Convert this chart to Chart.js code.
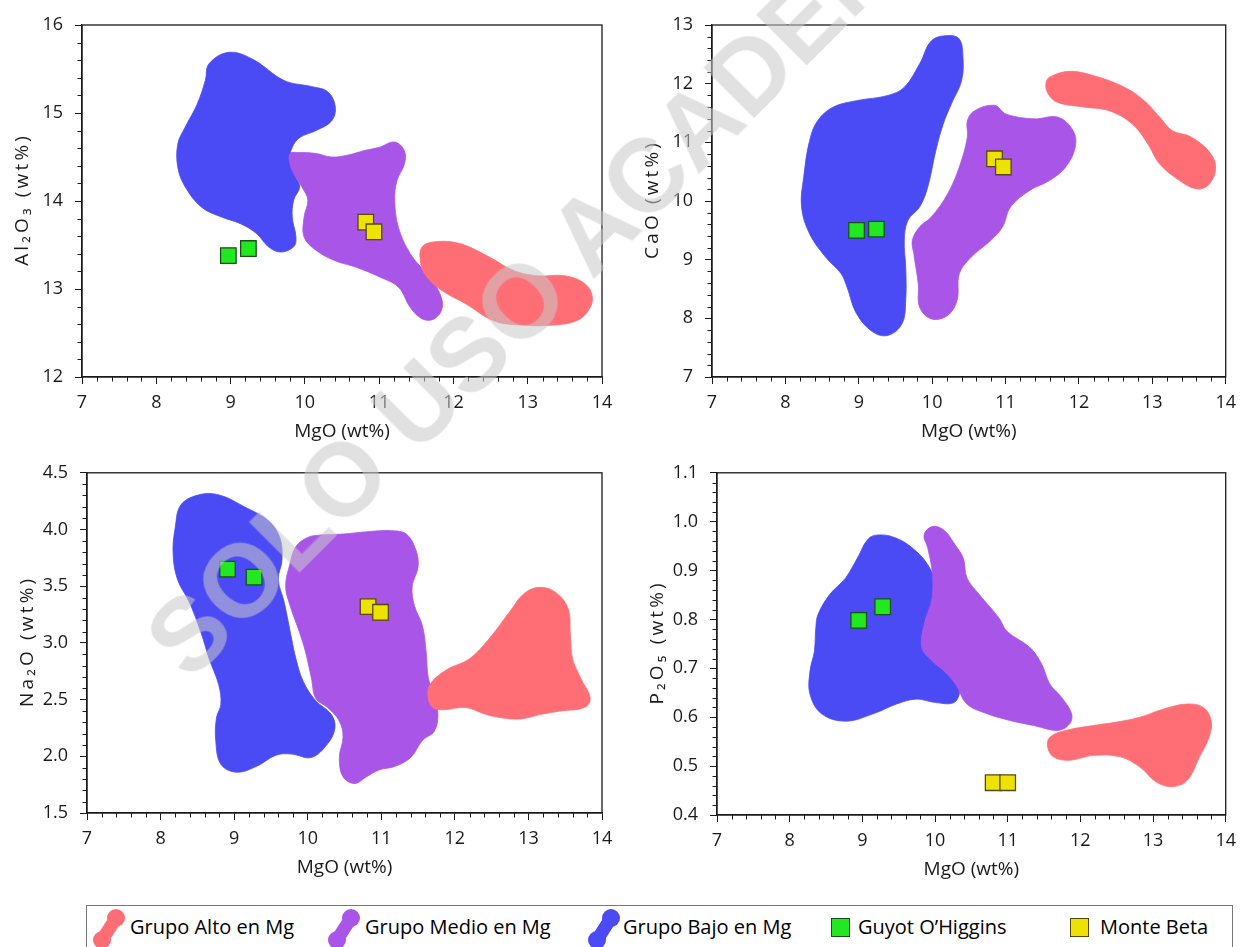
<!DOCTYPE html>
<html lang="es">
<head>
<meta charset="utf-8">
<title>MgO vs óxidos mayores</title>
<script src="https://cdn.jsdelivr.net/npm/chart.js@4.4.0/dist/chart.umd.min.js"></script>
<style>
  html, body { margin: 0; padding: 0; background: #fff; overflow: hidden; }
  #page { position: relative; width: 1244px; height: 947px; overflow: hidden; }
  #page canvas { position: absolute; }
  #legend { position: absolute; left: 86px; top: 905px; width: 1147px; height: 60px; border: 1.5px solid #777; box-sizing: border-box; }
  #legend .icon { position: absolute; top: 0.5px; }
  #legend .box { position: absolute; top: 11.5px; width: 19px; height: 19px; box-sizing: border-box; }
  #legend .lab { position: absolute; top: 8.5px; line-height: 24px; font-family: 'Open Sans', sans-serif; font-size: 20px; color: #000; white-space: nowrap; }
  #watermark { position: absolute; left: 590px; top: 232px; transform: translate(-50%, -50%) rotate(-45deg); font: bold 103px 'Liberation Sans', Arial, sans-serif; line-height: 1; color: rgba(200, 200, 200, 0.55); white-space: nowrap; pointer-events: none; }
</style>
</head>
<body>
<div id="page">
  <canvas id="c-al" width="622" height="450" style="left:0;top:0"></canvas>
  <canvas id="c-ca" width="622" height="450" style="left:622px;top:0"></canvas>
  <canvas id="c-na" width="622" height="450" style="left:0;top:450px"></canvas>
  <canvas id="c-p" width="622" height="450" style="left:622px;top:450px"></canvas>
  <div id="legend"></div>
  <div id="watermark">SOLO USO ACADÉMICO</div>
</div>
<script>
'use strict';

//--------------------DATA (MgO on x, oxide on y, all wt%)

// Al2O3 fields
let alAlto = [[11.58,13.48],[11.80,13.54],[12.11,13.51],[12.49,13.36],[12.81,13.21],[13.13,13.15],[13.50,13.15],[13.77,13.06],[13.87,12.91],[13.82,12.76],[13.66,12.64],[13.34,12.59],[12.91,12.59],[12.54,12.64],[12.17,12.83],[11.85,12.98],[11.64,13.14],[11.56,13.29]];
let alMedio = [[9.80,14.54],[9.93,14.55],[10.15,14.54],[10.36,14.50],[10.57,14.52],[10.79,14.57],[11.00,14.61],[11.21,14.67],[11.34,14.57],[11.34,14.42],[11.24,14.23],[11.21,14.01],[11.26,13.70],[11.42,13.40],[11.64,13.17],[11.80,12.98],[11.85,12.79],[11.74,12.66],[11.58,12.66],[11.42,12.79],[11.26,13.02],[11.00,13.14],[10.68,13.25],[10.41,13.32],[10.15,13.44],[9.99,13.59],[9.99,13.82],[10.04,14.01],[9.96,14.16],[9.85,14.31],[9.80,14.42]];
let alBajo = [[8.71,15.56],[8.98,15.69],[9.30,15.61],[9.72,15.37],[10.09,15.30],[10.31,15.24],[10.41,15.07],[10.36,14.91],[10.15,14.80],[9.93,14.72],[9.83,14.61],[9.80,14.46],[9.88,14.27],[9.93,14.16],[9.85,14.01],[9.83,13.82],[9.88,13.59],[9.85,13.48],[9.67,13.42],[9.51,13.48],[9.35,13.63],[9.14,13.74],[8.87,13.82],[8.61,13.93],[8.39,14.16],[8.29,14.38],[8.29,14.65],[8.39,14.84],[8.55,15.10],[8.66,15.37]];
let alGuyot = [[8.97,13.38],[9.24,13.46]];
let alBeta = [[10.82,13.76],[10.93,13.65]];

// CaO fields
let caAlto = [[11.60,12.11],[11.87,12.21],[12.19,12.14],[12.62,11.94],[12.89,11.71],[13.10,11.43],[13.27,11.20],[13.53,11.09],[13.80,10.80],[13.86,10.52],[13.75,10.26],[13.59,10.21],[13.37,10.35],[13.10,10.63],[12.94,10.97],[12.73,11.31],[12.41,11.54],[12.09,11.60],[11.71,11.68],[11.58,11.83],[11.55,12.00]];
let caMedio = [[10.58,11.54],[10.85,11.63],[11.01,11.48],[11.39,11.40],[11.71,11.43],[11.92,11.20],[11.95,10.92],[11.82,10.58],[11.60,10.35],[11.33,10.18],[11.07,9.90],[10.96,9.56],[10.80,9.33],[10.53,9.04],[10.37,8.76],[10.34,8.31],[10.21,8.05],[9.99,7.99],[9.83,8.19],[9.81,8.59],[9.75,9.10],[9.73,9.33],[9.83,9.56],[9.99,9.73],[10.21,10.12],[10.37,10.58],[10.48,11.09],[10.48,11.37]];
let caBajo = [[10.21,12.82],[10.37,12.76],[10.42,12.45],[10.40,12.05],[10.26,11.65],[10.15,11.31],[10.05,10.86],[9.94,10.24],[9.83,9.90],[9.67,9.67],[9.62,9.33],[9.64,8.87],[9.64,8.31],[9.59,7.91],[9.40,7.71],[9.19,7.77],[8.97,8.08],[8.84,8.53],[8.76,8.76],[8.55,9.04],[8.33,9.44],[8.22,9.90],[8.25,10.41],[8.33,11.03],[8.44,11.37],[8.65,11.60],[8.97,11.71],[9.40,11.80],[9.62,11.94],[9.83,12.34],[9.99,12.73]];
let caGuyot = [[8.97,9.50],[9.24,9.52]];
let caBeta = [[10.85,10.72],[10.97,10.58]];

// Na2O fields
let naAlto = [[11.66,2.63],[11.88,2.76],[12.20,2.86],[12.47,3.04],[12.74,3.27],[12.95,3.44],[13.17,3.49],[13.38,3.44],[13.54,3.30],[13.57,3.07],[13.60,2.86],[13.71,2.69],[13.84,2.51],[13.76,2.43],[13.44,2.40],[13.17,2.37],[12.90,2.33],[12.63,2.34],[12.42,2.37],[12.15,2.43],[11.83,2.41],[11.70,2.43],[11.64,2.51]];
let naMedio = [[10.00,3.93],[10.16,3.95],[10.48,3.96],[10.80,3.98],[11.13,3.99],[11.34,3.96],[11.47,3.82],[11.50,3.67],[11.42,3.50],[11.45,3.33],[11.56,3.15],[11.61,2.92],[11.64,2.69],[11.72,2.54],[11.77,2.37],[11.72,2.22],[11.56,2.14],[11.40,1.99],[11.18,1.91],[10.97,1.88],[10.80,1.82],[10.64,1.76],[10.48,1.82],[10.43,1.99],[10.48,2.17],[10.43,2.31],[10.27,2.43],[10.11,2.51],[10.05,2.69],[9.97,2.92],[9.89,3.09],[9.76,3.33],[9.70,3.50],[9.76,3.70],[9.84,3.85]];
let naBajo = [[8.55,4.31],[8.82,4.30],[9.14,4.20],[9.46,4.08],[9.62,3.93],[9.65,3.73],[9.60,3.56],[9.68,3.36],[9.78,3.04],[9.84,2.86],[9.94,2.66],[10.11,2.49],[10.32,2.37],[10.37,2.25],[10.27,2.11],[10.05,1.99],[9.78,2.02],[9.57,2.01],[9.30,1.91],[9.03,1.86],[8.82,1.93],[8.75,2.14],[8.76,2.34],[8.82,2.46],[8.79,2.63],[8.66,2.86],[8.55,3.09],[8.39,3.36],[8.23,3.56],[8.17,3.79],[8.20,4.02],[8.28,4.22]];
let naGuyot = [[8.91,3.65],[9.27,3.58]];
let naBeta = [[10.82,3.32],[10.99,3.27]];

// P2O5 fields
let pAlto = [[11.58,0.559],[11.80,0.573],[12.18,0.583],[12.50,0.590],[12.82,0.600],[13.15,0.617],[13.47,0.627],[13.69,0.620],[13.80,0.593],[13.77,0.559],[13.64,0.519],[13.47,0.471],[13.26,0.458],[13.04,0.468],[12.82,0.498],[12.55,0.519],[12.18,0.522],[11.85,0.512],[11.63,0.519],[11.55,0.539]];
let pMedio = [[9.96,0.990],[10.12,0.983],[10.28,0.952],[10.39,0.925],[10.44,0.885],[10.61,0.851],[10.88,0.803],[10.99,0.776],[11.31,0.742],[11.47,0.708],[11.58,0.668],[11.74,0.641],[11.88,0.607],[11.85,0.586],[11.69,0.573],[11.36,0.583],[11.04,0.593],[10.72,0.607],[10.44,0.627],[10.28,0.668],[10.12,0.695],[9.96,0.715],[9.82,0.742],[9.85,0.790],[9.96,0.844],[9.96,0.898],[9.90,0.946],[9.85,0.973]];
let pBajo = [[9.26,0.973],[9.47,0.966],[9.69,0.946],[9.90,0.912],[10.01,0.871],[9.99,0.817],[9.90,0.763],[9.96,0.722],[10.12,0.695],[10.28,0.674],[10.34,0.654],[10.26,0.630],[10.01,0.630],[9.74,0.637],[9.47,0.627],[9.15,0.607],[8.77,0.592],[8.44,0.607],[8.28,0.647],[8.28,0.695],[8.34,0.735],[8.36,0.783],[8.39,0.810],[8.55,0.851],[8.77,0.885],[8.93,0.925],[9.09,0.966]];
let pGuyot = [[8.95,0.798],[9.28,0.826]];
let pBeta = [[10.80,0.466],[11.00,0.466]];

// axes
let xTitle = 'MgO (wt%)';
let xMin = 7, xMax = 14, xStep = 1, xMinor = 0.2;

let seriesNames = ['Grupo Alto en Mg', 'Grupo Medio en Mg', 'Grupo Bajo en Mg', 'Guyot O\u2019Higgins', 'Monte Beta'];

//--------------------STYLE
let colAlto = 'rgb(255,110,117)';
let colMedio = 'rgb(168,85,232)';
let colBajo = 'rgb(75,75,245)';
let colGuyot = 'rgb(34,232,34)';
let colBeta = 'rgb(238,226,0)';
let inkColor = '#1a1a1a';

//--------------------PANELS
// plot: left, top, right, bottom of the plot area inside each canvas
let panels = [
  { id: 'c-al', plot: [82, 25, 602, 377], yTitle: 'Al\u2082O\u2083 (wt%)', yMin: 12, yMax: 16, yStep: 1, yMinor: 0.2, yDec: 0,
    fields: [alAlto, alMedio, alBajo], guyot: alGuyot, beta: alBeta },
  { id: 'c-ca', plot: [90, 25, 612, 377], yTitle: 'CaO (wt%)', yMin: 7, yMax: 13, yStep: 1, yMinor: 0.2, yDec: 0,
    fields: [caAlto, caMedio, caBajo], guyot: caGuyot, beta: caBeta },
  { id: 'c-na', plot: [87, 18, 602, 363], yTitle: 'Na\u2082O (wt%)', yMin: 1.5, yMax: 4.5, yStep: 0.5, yMinor: 0.1, yDec: 1,
    fields: [naAlto, naMedio, naBajo], guyot: naGuyot, beta: naBeta },
  { id: 'c-p', plot: [95, 20, 612, 365], yTitle: 'P\u2082O\u2085 (wt%)', yMin: 0.4, yMax: 1.1, yStep: 0.1, yMinor: 0.02, yDec: 1,
    fields: [pAlto, pMedio, pBajo], guyot: pGuyot, beta: pBeta },
];

let Y_AXIS_W = 72;
let X_AXIS_H = 66;

//--------------------HELPERS
function toPoints(arr) {
  return arr.map(function (p) { return { x: p[0], y: p[1] }; });
}

// the y titles in the figure are letter-spaced
function spaced(text) {
  return text.split('').join('\u2009');
}

function minorValues(min, max, step, major) {
  let out = [];
  let n = Math.round((max - min) / step);
  let per = Math.round(major / step);
  for (let i = 1; i < n; i++) {
    if (i % per !== 0) out.push(min + i * step);
  }
  return out;
}

// closes the field outlines into smooth loops and draws the frame + minor ticks
let fieldPlugin = {
  id: 'fields',
  afterDatasetsUpdate(chart) {
    chart.data.datasets.forEach(function (ds, i) {
      let line = chart.getDatasetMeta(i).dataset;
      if (ds.closedField && line) {
        line._loop = true;
        line._fullLoop = true;
        line._pointsUpdated = false;
        line._segments = undefined;
        line._path = undefined;
      }
    });
  },
  afterDraw(chart) {
    let ctx = chart.ctx;
    let a = chart.chartArea;
    let xs = chart.scales.x;
    let ys = chart.scales.y;
    let opts = chart.options.plugins.fields;
    ctx.save();
    ctx.strokeStyle = inkColor;
    ctx.lineWidth = 1.3;
    ctx.strokeRect(a.left, a.top, a.right - a.left, a.bottom - a.top);
    ctx.lineWidth = 1;
    ctx.beginPath();
    minorValues(xMin, xMax, xMinor, xStep).forEach(function (v) {
      let px = Math.round(xs.getPixelForValue(v)) + 0.5;
      ctx.moveTo(px, a.bottom);
      ctx.lineTo(px, a.bottom + 4.5);
    });
    minorValues(opts.yMin, opts.yMax, opts.yMinor, opts.yStep).forEach(function (v) {
      let py = Math.round(ys.getPixelForValue(v)) + 0.5;
      ctx.moveTo(a.left - 4.5, py);
      ctx.lineTo(a.left, py);
    });
    ctx.stroke();
    ctx.restore();
  }
};

function fieldDataset(label, pts, color, order) {
  return {
    type: 'line',
    label: label,
    data: toPoints(pts),
    closedField: true,
    backgroundColor: color,
    borderColor: color,
    borderWidth: 0.8,
    fill: 'shape',
    tension: 0.38,
    pointRadius: 0,
    order: order,
  };
}

function markerDataset(label, pts, fill, edge) {
  return {
    type: 'scatter',
    label: label,
    data: toPoints(pts),
    pointStyle: 'rect',
    pointRadius: 11,
    backgroundColor: fill,
    borderColor: edge,
    borderWidth: 1.3,
    order: 0,
  };
}

function renderPanel(p) {
  let canvas = document.getElementById(p.id);
  let w = canvas.width, h = canvas.height;
  let tickFont = { family: "'Open Sans', sans-serif", size: 18 };
  let titleFont = { family: "'Open Sans', sans-serif", size: 19 };

  let cfg = {
    type: 'scatter',
    data: {
      datasets: [
        markerDataset(seriesNames[4], p.beta, colBeta, 'rgb(85,70,20)'),
        markerDataset(seriesNames[3], p.guyot, colGuyot, 'rgb(25,80,25)'),
        fieldDataset(seriesNames[2], p.fields[2], colBajo, 3),
        fieldDataset(seriesNames[1], p.fields[1], colMedio, 2),
        fieldDataset(seriesNames[0], p.fields[0], colAlto, 1),
      ],
    },
    options: {
      responsive: false,
      animation: false,
      devicePixelRatio: 1,
      events: [],
      layout: {
        padding: {
          left: p.plot[0] - Y_AXIS_W,
          top: p.plot[1],
          right: w - p.plot[2],
          bottom: h - p.plot[3] - X_AXIS_H,
        },
      },
      plugins: {
        legend: { display: false },
        tooltip: { enabled: false },
        fields: { yMin: p.yMin, yMax: p.yMax, yStep: p.yStep, yMinor: p.yMinor },
      },
      scales: {
        x: {
          type: 'linear',
          position: 'bottom',
          min: xMin,
          max: xMax,
          afterFit: function (s) { s.height = X_AXIS_H; },
          ticks: { stepSize: xStep, color: inkColor, font: tickFont, padding: 8, maxRotation: 0 },
          grid: { drawOnChartArea: false, drawTicks: true, tickLength: 7, tickColor: inkColor, tickWidth: 1 },
          border: { color: inkColor, width: 1.3 },
          title: { display: true, text: xTitle, color: inkColor, font: titleFont, padding: { top: 0, bottom: 0 } },
        },
        y: {
          type: 'linear',
          position: 'left',
          min: p.yMin,
          max: p.yMax,
          afterFit: function (s) { s.width = Y_AXIS_W; },
          ticks: {
            stepSize: p.yStep, color: inkColor, font: tickFont, padding: 12,
            callback: function (v) { return Number(v).toFixed(p.yDec); },
          },
          grid: { drawOnChartArea: false, drawTicks: true, tickLength: 7, tickColor: inkColor, tickWidth: 1 },
          border: { color: inkColor, width: 1.3 },
          title: { display: true, text: spaced(p.yTitle), color: inkColor, font: titleFont, padding: { top: 1, bottom: 0 } },
        },
      },
    },
    plugins: [fieldPlugin],
  };
  new Chart(canvas, cfg);
}

//--------------------LEGEND
function blobIcon(color) {
  return '<svg width="34" height="44" viewBox="0 0 34 44">' +
    '<circle cx="24" cy="11" r="9" fill="' + color + '"/>' +
    '<circle cx="10" cy="33" r="9" fill="' + color + '"/>' +
    '<line x1="24" y1="11" x2="10" y2="33" stroke="' + color + '" stroke-width="13" stroke-linecap="round"/>' +
    '</svg>';
}

function renderLegend() {
  let legend = document.getElementById('legend');
  let items = [
    { kind: 'blob', color: colAlto, iconX: 5, textX: 43 },
    { kind: 'blob', color: colMedio, iconX: 240, textX: 278 },
    { kind: 'blob', color: colBajo, iconX: 500, textX: 536 },
    { kind: 'box', color: colGuyot, edge: 'rgb(25,80,25)', iconX: 744, textX: 771 },
    { kind: 'box', color: colBeta, edge: 'rgb(85,70,20)', iconX: 983, textX: 1013 },
  ];
  items.forEach(function (it, i) {
    let icon = document.createElement('div');
    if (it.kind === 'blob') {
      icon.className = 'icon';
      icon.innerHTML = blobIcon(it.color);
    } else {
      icon.className = 'box';
      icon.style.background = it.color;
      icon.style.border = '1.3px solid ' + it.edge;
    }
    icon.style.left = it.iconX + 'px';
    legend.appendChild(icon);

    let lab = document.createElement('div');
    lab.className = 'lab';
    lab.style.left = it.textX + 'px';
    lab.textContent = seriesNames[i];
    legend.appendChild(lab);
  });
}

panels.forEach(renderPanel);
renderLegend();
</script>
</body>
</html>
